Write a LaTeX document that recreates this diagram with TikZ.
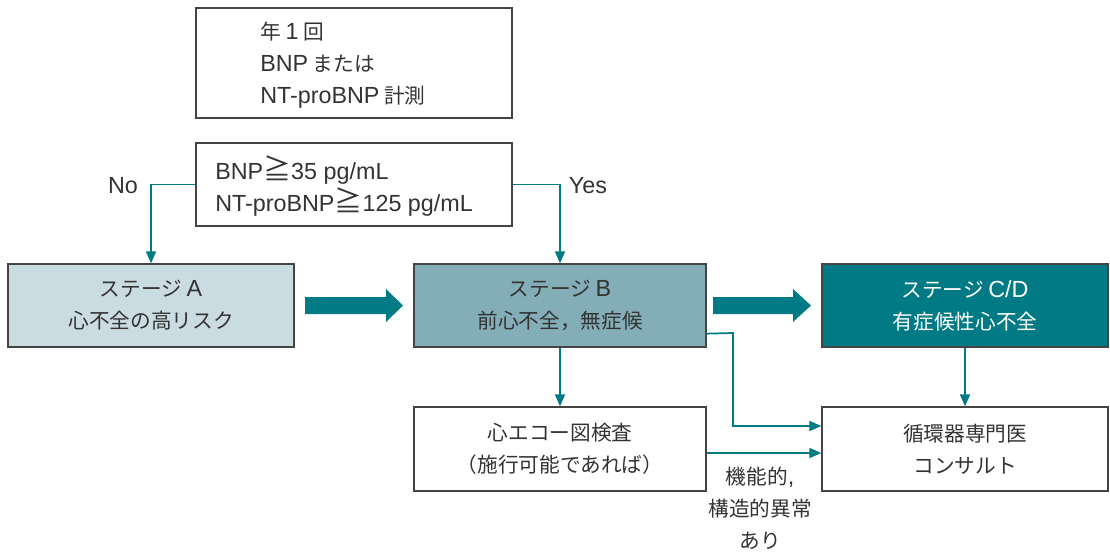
\documentclass[tikz,border=0pt]{standalone}
\usepackage{fontspec}
\setmainfont{Noto Sans CJK JP}
\newfontfamily\latfam{Liberation Sans}
\newcommand\la[1]{{\latfam\fontsize{17.5pt}{24pt}\selectfont #1}}
\newcommand\geqq{{\fontsize{21pt}{24pt}\selectfont ≧}}
\usetikzlibrary{arrows.meta}
\definecolor{txt}{HTML}{333333}
\definecolor{frame}{HTML}{444444}
\definecolor{teal}{HTML}{007B86}
\definecolor{fillA}{HTML}{CADBE1}
\definecolor{fillB}{HTML}{83ADB7}
\definecolor{fillC}{HTML}{007B86}
\tikzset{
  box/.style={draw=frame, line width=1pt, rectangle, inner sep=0pt, text=txt, align=center,
    font=\fontsize{15.5pt}{24pt}\selectfont},
  stagebox/.style={box, minimum width=214.5pt, minimum height=62.25pt},
  lbl/.style={text=txt, inner sep=0pt, font=\fontsize{15.5pt}{24pt}\selectfont},
  conn/.style={draw=teal, line width=1.3pt, -{Triangle[length=9pt,width=7.5pt]}},
  bigarrow/.style={fill=teal, draw=none}
}
\begin{document}
\begin{tikzpicture}[x=0.75pt,y=-0.75pt]
\useasboundingbox (0,0) rectangle (1110,551);
% top box
\node[box, minimum width=237pt, minimum height=82.5pt] (top) at (354,63) {};
\node[lbl, anchor=west, align=left] (toptext) at (260,65) {年 \la{1} 回\\\la{BNP} または\\\la{NT-proBNP} 計測};
% criterion box
\node[box, minimum width=237pt, minimum height=62.25pt] (crit) at (354,184.5) {};
\node[lbl, anchor=west, align=left] (crittext) at (215,186) {\la{BNP}\geqq\la{35 pg/mL}\\\la{NT-proBNP}\geqq\la{125 pg/mL}};
% stages
\node[stagebox, fill=fillA] (A) at (151,305.5) {ステージ \la{A}\\心不全の高リスク};
\node[stagebox, fill=fillB, minimum width=219pt] (B) at (560,305.5) {ステージ \la{B}\\前心不全，無症候};
\node[stagebox, fill=fillC, text=white] (C) at (965,305.5) {ステージ \la{C/D}\\有症候性心不全};
% bottom boxes
\node[box, minimum width=219pt, minimum height=63pt] (echo) at (560,449) {心エコー図検査\\（施行可能であれば）};
\node[box, minimum width=214.5pt, minimum height=63pt] (consult) at (965,449) {循環器専門医\\コンサルト};
% labels
\node[lbl] (no) at (123,186) {\la{No}};
\node[lbl] (yes) at (588,186) {\la{Yes}};
\node[lbl, align=center] (abn) at (760,508) {機能的\la{,}\\構造的異常\\あり};
% big arrows
\fill[bigarrow] (305,297) -- (386,297) -- (386,289) -- (403,305.5) -- (386,322) -- (386,314) -- (305,314) -- cycle;
\fill[bigarrow] (713,297) -- (793,297) -- (793,289) -- (811,305.5) -- (793,322) -- (793,314) -- (713,314) -- cycle;
% connectors
\draw[conn] (crit.west) -| (A.north);
\draw[conn] (crit.east) -| (B.north);
\draw[conn] (B.south) -- (echo.north);
\draw[conn] (C.south) -- (consult.north);
\coordinate (bturn) at (733,333);
\draw[conn] ([yshift=10.5pt]B.south east) -- (bturn) |- ([yshift=17.25pt]consult.west);
\draw[conn] ([yshift=-3pt]echo.east) -- ([yshift=-3pt]consult.west);
\end{tikzpicture}
\end{document}
